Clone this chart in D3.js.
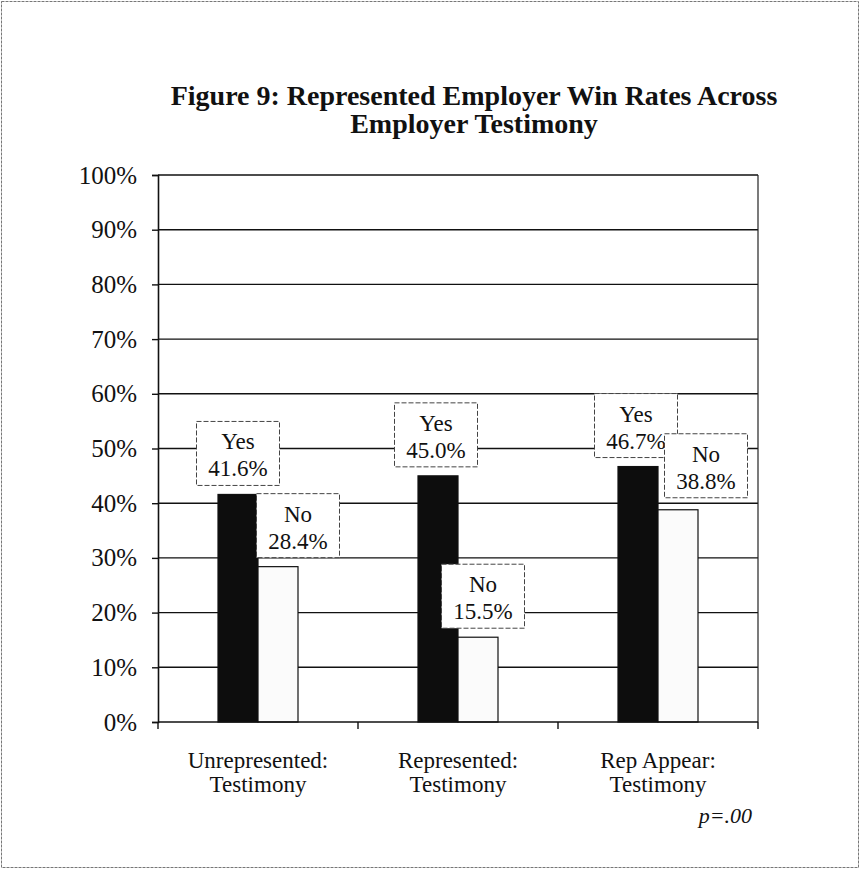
<!DOCTYPE html>
<html>
<head>
<meta charset="utf-8">
<script src="https://cdn.jsdelivr.net/npm/d3@7"></script>
<style>
  body { margin: 0; background: #fff; }
  text { font-family: 'Liberation Serif', 'Times New Roman', serif; fill: #111; }
</style>
</head>
<body>
<div id="viz"></div>
<script>
// chart values
const categories = ['Unrepresented:|Testimony', 'Represented:|Testimony', 'Rep Appear:|Testimony'];
const seriesNames = ['Yes', 'No'];
const yesValues = [41.6, 45.0, 46.7];
const noValues = [28.4, 15.5, 38.8];
const yTicks = [0, 10, 20, 30, 40, 50, 60, 70, 80, 90, 100];
const titleLines = ['Figure 9: Represented Employer Win Rates Across', 'Employer Testimony'];
const note = 'p=.00';

// label box nudges (px), set by hand so the boxes do not collide
const labelDx = { Yes: [0, -2, -2], No: [20, 5, 28] };
const labelGap = { Yes: [9, 9, 9], No: [9, 9, 12] };

const width = 861;
const height = 870;
const margin = { top: 175, right: 103, bottom: 148, left: 158 };

const svg = d3.select('#viz')
    .append('svg')
    .attr('width', width)
    .attr('height', height);

// outer frame
svg.append('rect')
    .attr('x', 1.5)
    .attr('y', 1.5)
    .attr('width', width - 4)
    .attr('height', height - 4)
    .attr('fill', 'none')
    .attr('stroke', '#777')
    .attr('stroke-width', 1)
    .attr('stroke-dasharray', '3,1');

// title
svg.append('g')
    .selectAll('text')
    .data(titleLines)
    .enter()
    .append('text')
    .attr('x', 474)
    .attr('y', (d, i) => 105 + i * 28)
    .attr('text-anchor', 'middle')
    .style('font-size', '28px')
    .style('font-weight', 'bold')
    .text((d) => d);

const x0 = d3.scaleBand()
    .domain(categories)
    .range([margin.left, width - margin.right])
    .paddingInner(0.6)
    .paddingOuter(0.3);

const x1 = d3.scaleBand()
    .domain(seriesNames)
    .range([0, x0.bandwidth()]);

const y = d3.scaleLinear()
    .domain([0, 100])
    .range([height - margin.bottom, margin.top]);

const plot = svg.append('g');

// gridlines
plot.append('g')
    .selectAll('line')
    .data(yTicks.filter((d) => d > 0))
    .enter()
    .append('line')
    .attr('x1', margin.left)
    .attr('x2', width - margin.right)
    .attr('y1', (d) => y(d))
    .attr('y2', (d) => y(d))
    .attr('stroke', '#111')
    .attr('stroke-width', 1.4);

// right border of plot area
plot.append('line')
    .attr('x1', width - margin.right)
    .attr('x2', width - margin.right)
    .attr('y1', y(100))
    .attr('y2', y(0))
    .attr('stroke', '#222')
    .attr('stroke-width', 1.2);

// y axis
const yAxis = d3.axisLeft(y)
    .tickValues(yTicks)
    .tickSize(6)
    .tickPadding(15)
    .tickFormat((d) => d + '%');

const yAxisG = svg.append('g')
    .attr('transform', `translate(${margin.left},0)`)
    .call(yAxis);
yAxisG.select('.domain').attr('stroke', '#111').attr('stroke-width', 1.6);
yAxisG.selectAll('.tick line').attr('stroke', '#111').attr('stroke-width', 1.4);
yAxisG.selectAll('.tick text')
    .style('font-family', "'Liberation Serif', serif")
    .style('font-size', '25px')
    .attr('fill', '#111');

// bars
const data = categories.map((c, i) => ({
  cat: c,
  i,
  vals: [{ key: 'Yes', value: yesValues[i], i }, { key: 'No', value: noValues[i], i }],
}));

const groups = plot.selectAll('.barGroup')
    .data(data)
    .enter()
    .append('g')
    .attr('class', 'barGroup')
    .attr('transform', (d) => `translate(${x0(d.cat)},0)`);

groups.selectAll('rect')
    .data((d) => d.vals)
    .enter()
    .append('rect')
    .attr('x', (d) => x1(d.key))
    .attr('y', (d) => y(d.value))
    .attr('width', x1.bandwidth())
    .attr('height', (d) => y(0) - y(d.value))
    .attr('fill', (d) => (d.key === 'Yes' ? '#0d0d0d' : '#fbfbfb'))
    .attr('stroke', '#111')
    .attr('stroke-width', 1.2);

// x axis (category boundaries ticks)
const xAxisG = svg.append('g');
xAxisG.append('line')
    .attr('x1', margin.left)
    .attr('x2', width - margin.right)
    .attr('y1', y(0))
    .attr('y2', y(0))
    .attr('stroke', '#111')
    .attr('stroke-width', 1.6);
const step = x0.step();
xAxisG.selectAll('.xtick')
    .data(d3.range(categories.length + 1))
    .enter()
    .append('line')
    .attr('class', 'xtick')
    .attr('x1', (d) => margin.left + d * step)
    .attr('x2', (d) => margin.left + d * step)
    .attr('y1', y(0))
    .attr('y2', y(0) + 7)
    .attr('stroke', '#111')
    .attr('stroke-width', 1.4);

// category labels
const catLabels = svg.append('g')
    .selectAll('text')
    .data(categories)
    .enter()
    .append('text')
    .attr('x', (d) => x0(d) + x0.bandwidth() / 2)
    .attr('y', 768)
    .attr('text-anchor', 'middle')
    .style('font-size', '23px');
catLabels.selectAll('tspan')
    .data((d) => d.split('|'))
    .enter()
    .append('tspan')
    .attr('x', function () { return d3.select(this.parentNode).attr('x'); })
    .attr('dy', (d, i) => (i === 0 ? 0 : 24))
    .text((d) => d);

// value label boxes
const boxW = 83;
const boxH = 64;
const labels = groups.selectAll('.valLabel')
    .data((d) => d.vals)
    .enter()
    .append('g')
    .attr('class', 'valLabel')
    .attr('transform', (d) => {
      const cx = x1(d.key) + x1.bandwidth() / 2 + labelDx[d.key][d.i];
      const by = y(d.value) - labelGap[d.key][d.i];
      return `translate(${cx - boxW / 2},${by - boxH})`;
    });
labels.append('rect')
    .attr('width', boxW)
    .attr('height', boxH)
    .attr('fill', '#fff')
    .attr('stroke', '#444')
    .attr('stroke-width', 1)
    .attr('stroke-dasharray', '5,2');
labels.append('text')
    .attr('x', boxW / 2)
    .attr('y', 28)
    .attr('text-anchor', 'middle')
    .style('font-size', '23px')
    .text((d) => d.key);
labels.append('text')
    .attr('x', boxW / 2)
    .attr('y', 55)
    .attr('text-anchor', 'middle')
    .style('font-size', '23px')
    .text((d) => d.value.toFixed(1) + '%');

// p value note
svg.append('text')
    .attr('x', 752)
    .attr('y', 823)
    .attr('text-anchor', 'end')
    .style('font-size', '22px')
    .style('font-style', 'italic')
    .text(note);
</script>
</body>
</html>
